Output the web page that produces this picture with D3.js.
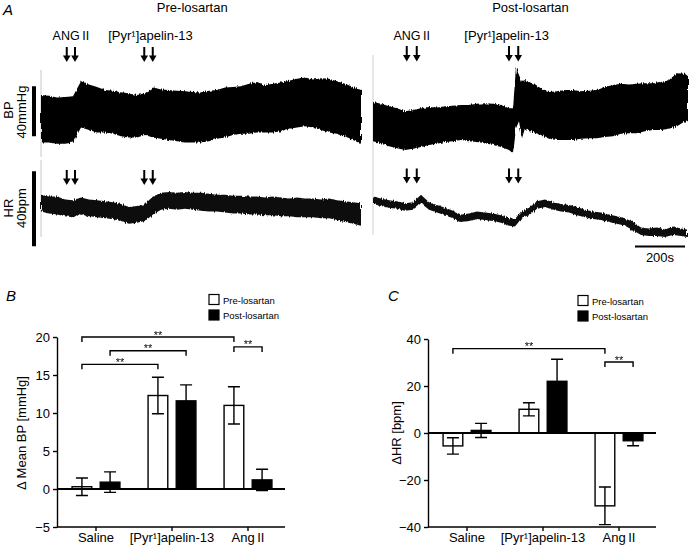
<!DOCTYPE html>
<html>
<head>
<meta charset="utf-8">
<script src="https://cdn.jsdelivr.net/npm/d3@7"></script>
<style>
  body { margin: 0; background: #fff; }
  svg { display: block; font-family: "Liberation Sans", Arial, Helvetica, sans-serif; }
  .stars { opacity: 0.99; will-change: transform; }
</style>
</head>
<body>
<svg id="fig" width="690" height="553"></svg>
<script>
// ---------- panel A: raw recordings (time in s from start of each trace) ----------
const preT = [0, 32, 64, 96, 128, 160, 192, 224, 256, 288, 320, 352, 384, 416, 448, 480, 512, 544, 576, 608,
  640, 672, 704, 736, 768, 800, 832, 864, 896, 928, 960, 992, 1024, 1056, 1088, 1120, 1152, 1184, 1216, 1248, 1280];
// BP envelope, mmHg
const preBPhi = [116, 115.5, 114, 114.5, 115, 127, 124.5, 122.5, 120, 119.5, 118, 117.5, 116, 117.5, 122, 120.5, 120, 119.5, 119, 118.5,
  118, 119.5, 120, 122, 122.5, 123, 125, 126.5, 124, 125, 126, 127.5, 129, 130, 128.5, 129.5, 129, 127, 125, 122.5, 120];
const preBPlo = [78, 78, 77, 77, 78, 90, 88, 86, 86, 85, 83, 82, 82, 84, 82, 81, 80, 79, 78, 78,
  78, 79, 81, 82, 84, 85, 85, 86, 86, 86, 87, 89, 90, 91, 90, 88, 86, 85, 83, 80, 77];
// HR envelope, bpm
const preHRhi = [337.5, 336.5, 336.5, 335, 334.5, 336, 335, 334.5, 334, 333.5, 332.5, 331, 331.5, 332.5, 336.5, 338.5, 339, 338.5, 339, 338.5,
  338.5, 338, 337.5, 337.5, 337, 337, 336.5, 336.5, 336, 336.5, 336, 335.5, 336, 335.5, 335.5, 335, 335.5, 334.5, 334, 333.5, 333];
const preHRlo = [328.5, 327.5, 327, 326, 325.5, 327, 326, 325.5, 325, 324.5, 323.5, 322, 322.5, 323.5, 327, 329.5, 330, 329.5, 330, 329.5,
  329, 328.5, 328.5, 328, 327.5, 327.5, 327, 327, 326.5, 326.5, 326, 326, 325.5, 325.5, 325.5, 325, 325, 324, 323, 322, 321];

const postBPT = [0, 32, 64, 96, 128, 160, 192, 224, 256, 288, 320, 352, 384, 416, 448, 480, 512, 544,
  560, 572, 584, 596, 608,
  640, 672, 704, 736, 768, 800, 832, 864, 896, 928, 960, 992, 1024, 1056, 1088, 1120, 1152, 1184, 1216, 1248, 1260];
const postBPhi = [110.5, 109, 107, 105.5, 103, 104, 105.5, 106.5, 106, 107, 107.5, 108, 108, 109, 109.5, 109, 108, 105.5,
  105.5, 138.5, 132, 126.5, 128,
  125, 121.5, 118.5, 119, 120, 120, 119, 119.5, 120, 122.5, 124, 125, 124.5, 125, 125.5, 125.5, 126.5, 128, 133.5, 133, 131];
const postBPlo = [79, 77.5, 75, 73.5, 72, 73, 74.5, 76, 77, 78.5, 79, 80, 79, 78.5, 77.5, 76, 74.5, 72,
  69.5, 89.5, 95, 81.5, 89.5,
  86.5, 84, 81, 80, 80, 80, 81, 81.5, 81.5, 82.5, 83, 85, 85.5, 85.5, 87, 88, 88, 89, 91, 95, 96];

const postHRT = [0, 32, 64, 96, 128, 160, 192, 224, 256, 288, 320, 352, 384, 416, 448, 480, 512, 544, 568, 592,
  624, 656, 688, 720, 752, 784, 816, 848, 880, 912, 944, 976, 1008, 1040, 1072, 1104, 1136, 1168, 1200, 1232, 1256];
const postHRhi = [336.5, 335.5, 334.5, 334, 333, 333.5, 337.5, 333.5, 332, 330.5, 329, 327, 327.5, 328.5, 328, 327.5, 326.5, 325, 324.5, 328.5,
  330.5, 334, 335, 333.5, 332.5, 332, 331, 329.5, 328.5, 328, 327, 326, 325, 323, 320, 319.5, 320, 319, 320.5, 319.5, 319];
const postHRlo = [332.5, 331.5, 330.5, 330, 329, 329.5, 333, 329.5, 328, 326.5, 325, 323, 323.5, 324.5, 324, 323.5, 322.5, 321, 320.5, 324.5,
  326.5, 330, 331, 329.5, 328.5, 328, 326.5, 325.5, 324.5, 324, 323, 322, 321, 318.5, 316, 315.5, 315.5, 315, 316, 315.5, 315];

// injection times (s)
const preAngT = [103, 136], preApelinT = [413, 447];
const postAngT = [135, 175], postApelinT = [544, 581];

// ---------- panels B and C: summary bars ----------
const groups = ["Saline", "[Pyr\u00b9]apelin-13", "Ang\u2009II"];
const bpPre = [0.3, 12.3, 11.0], bpPreErr = [1.15, 2.4, 2.45];
const bpPost = [0.9, 11.6, 1.2], bpPostErr = [1.35, 2.1, 1.4];
const hrPre = [-5.5, 10.1, -31], hrPreErr = [3.5, 2.8, 8];
const hrPost = [1.1, 22, -3.3], hrPostErr = [3.0, 9.4, 2.1];
const bpTicks = [-5, 0, 5, 10, 15, 20];
const hrTicks = [-40, -20, 0, 20, 40];
// significance brackets: [group, series] -> [group, series], at level (data units)
const bpSig = [
  { a: [0, "pre"], b: [2, "pre"], level: 20 },
  { a: [0, "post"], b: [1, "post"], level: 18.2 },
  { a: [0, "pre"], b: [1, "pre"], level: 16.4 },
  { a: [2, "pre"], b: [2, "post"], level: 18.7 }
];
const hrSig = [
  { a: [0, "pre"], b: [2, "pre"], level: 35.9 },
  { a: [2, "pre"], b: [2, "post"], level: 30.2 }
];

var svg = d3.select("#fig");
// rough, slightly soft edge for the digitised traces
var flt = svg.append("defs").append("filter").attr("id", "soft")
  .attr("x", "-5%").attr("y", "-20%").attr("width", "110%").attr("height", "140%");
flt.append("feTurbulence").attr("type", "fractalNoise").attr("baseFrequency", "0.9 0.08")
  .attr("numOctaves", 2).attr("seed", 3).attr("result", "n");
flt.append("feDisplacementMap").attr("in", "SourceGraphic").attr("in2", "n")
  .attr("scale", 3.5).attr("xChannelSelector", "A").attr("yChannelSelector", "R").attr("result", "d");
flt.append("feGaussianBlur").attr("in", "d").attr("stdDeviation", 0.45);

//---- panel A ----
var xPre = d3.scaleLinear().domain([0, 1280]).range([41, 361]);
var xPost = d3.scaleLinear().domain([0, 1260]).range([373, 688]);
var yBP = d3.scaleLinear().domain([60, 140]).range([165, 65]);
var yHR = d3.scaleLinear().domain([300, 420]).range([265, 40]);

function trace(x, y, t, hi, lo, fill) {
  var area = d3.area()
    .x(function (d, i) { return x(t[i]); })
    .y0(function (d, i) { return y(lo[i]); })
    .y1(function (d) { return y(d); });
  svg.append("path").datum(hi)
    .attr("d", area)
    .attr("fill", fill)
    .attr("filter", "url(#soft)");
}

// faint start-of-record lines
svg.append("line").attr("x1", xPre(0)).attr("x2", xPre(0)).attr("y1", 70).attr("y2", 157)
  .attr("stroke", "#c8c8c8").attr("stroke-width", 1);
svg.append("line").attr("x1", xPre(0)).attr("x2", xPre(0)).attr("y1", 160).attr("y2", 237)
  .attr("stroke", "#c8c8c8").attr("stroke-width", 1);
svg.append("line").attr("x1", xPost(0)).attr("x2", xPost(0)).attr("y1", 55).attr("y2", 235)
  .attr("stroke", "#d0d0d0").attr("stroke-width", 1);

trace(xPre, yBP, preT, preBPhi, preBPlo, "#000");
trace(xPre, yHR, preT, preHRhi, preHRlo, "#111");
trace(xPost, yBP, postBPT, postBPhi, postBPlo, "#000");
trace(xPost, yHR, postHRT, postHRhi, postHRlo, "#111");

function arrows(x, times, yTop, yBot) {
  times.forEach(function (t) {
    var cx = x(t);
    svg.append("line").attr("x1", cx).attr("x2", cx).attr("y1", yTop).attr("y2", yBot - 5)
      .attr("stroke", "#000").attr("stroke-width", 2);
    svg.append("path")
      .attr("d", "M" + (cx - 3.8) + "," + (yBot - 6.5) + "L" + (cx + 3.8) + "," + (yBot - 6.5) + "L" + cx + "," + yBot + "Z")
      .attr("fill", "#000");
  });
}
arrows(xPre, preAngT, 47, 62);
arrows(xPre, preApelinT, 47, 62);
arrows(xPost, postAngT, 46, 61.5);
arrows(xPost, postApelinT, 46, 61.5);
arrows(xPre, preAngT, 170, 185);
arrows(xPre, preApelinT, 170, 185);
arrows(xPost, postAngT, 168.5, 183.5);
arrows(xPost, postApelinT, 168.5, 183.5);

function label(x, y, txt, size, anchor) {
  return svg.append("text").attr("x", x).attr("y", y)
    .attr("font-size", size).attr("text-anchor", anchor || "middle").text(txt);
}
label(xPre(d3.mean(preAngT)), 40, "ANG\u2009II", 12.5);
label(xPre(d3.mean(preApelinT)) + 2, 40, "[Pyr\u00b9]apelin-13", 13);
label(xPost(d3.mean(postAngT)), 40, "ANG\u2009II", 12.5);
label(xPost(d3.mean(postApelinT)) - 7, 40, "[Pyr\u00b9]apelin-13", 13);
label(xPre(605), 12, "Pre-losartan", 13);
label(xPost(630), 12, "Post-losartan", 13);
label(3, 15, "A", 15, "start").attr("font-style", "italic");

// calibration bars
svg.append("rect").attr("x", 32).attr("width", 4)
  .attr("y", yBP(123)).attr("height", yBP(83) - yBP(123)).attr("fill", "#000");
svg.append("rect").attr("x", 32).attr("width", 4)
  .attr("y", yHR(350)).attr("height", yHR(310) - yHR(350)).attr("fill", "#000");
svg.append("line").attr("x1", xPost(1048)).attr("x2", xPost(1248)).attr("y1", 246.5).attr("y2", 246.5)
  .attr("stroke", "#000").attr("stroke-width", 2);
label((xPost(1048) + xPost(1248)) / 2, 262, "200s", 13);

function vlabel(x, y, txt, size) {
  return svg.append("text").attr("transform", "translate(" + x + "," + y + ") rotate(-90)")
    .attr("font-size", size).attr("text-anchor", "middle").text(txt);
}
vlabel(13, 110, "BP", 13);
vlabel(26, 112, "40mmHg", 13);
vlabel(13, 208, "HR", 13);
vlabel(26, 208, "40bpm", 13);

//---- panels B and C ----
function barPanel(o) {
  var g = svg.append("g");
  var x = d3.scaleBand().domain(groups).range([o.left + 1, o.left + 229]);
  var sub = d3.scaleBand().domain(["pre", "post"]).range([0, x.bandwidth()])
    .paddingInner(0.3).paddingOuter(0.5);
  var y = d3.scaleLinear().domain(o.domain).range([527, o.top]);

  var yAxis = g.append("g").attr("transform", "translate(" + o.left + ",0)")
    .call(d3.axisLeft(y).tickValues(o.ticks).tickSize(4).tickSizeOuter(0).tickPadding(3));
  var xAxis = g.append("g").attr("transform", "translate(0," + y(o.domain[0]) + ")")
    .call(d3.axisBottom(x).tickSize(4).tickSizeOuter(0).tickPadding(2));
  xAxis.select(".domain").attr("d", "M" + o.left + ",0H" + (o.left + 228));
  [yAxis, xAxis].forEach(function (a) {
    a.attr("font-family", null).attr("font-size", 13);
    a.selectAll("path,line").attr("stroke", "#000").attr("stroke-width", 1.4);
    a.selectAll("text").attr("fill", "#000");
  });

  var series = [
    { key: "pre", v: o.pre, e: o.preErr, fill: "#fff" },
    { key: "post", v: o.post, e: o.postErr, fill: "#000" }
  ];
  series.forEach(function (s) {
    g.selectAll(null).data(s.v).enter().append("rect")
      .attr("x", function (d, i) { return x(groups[i]) + sub(s.key); })
      .attr("width", sub.bandwidth())
      .attr("y", function (d) { return y(Math.max(0, d)); })
      .attr("height", function (d) { return Math.abs(y(d) - y(0)); })
      .attr("fill", s.fill).attr("stroke", "#000").attr("stroke-width", 1.4);
  });
  // zero line
  g.append("line").attr("x1", o.left).attr("x2", o.left + 228)
    .attr("y1", y(0)).attr("y2", y(0)).attr("stroke", "#000").attr("stroke-width", 2);
  // error bars
  series.forEach(function (s) {
    s.v.forEach(function (d, i) {
      var cx = x(groups[i]) + sub(s.key) + sub.bandwidth() / 2;
      var y1 = y(d + s.e[i]), y2 = y(d - s.e[i]);
      g.append("path")
        .attr("d", "M" + cx + "," + y1 + "V" + y2 + "M" + (cx - 6) + "," + y1 + "H" + (cx + 6) + "M" + (cx - 6) + "," + y2 + "H" + (cx + 6))
        .attr("stroke", "#000").attr("stroke-width", 1.4).attr("fill", "none");
    });
  });
  // significance
  function barX(p) { return x(groups[p[0]]) + sub(p[1]) + sub.bandwidth() / 2; }
  o.sig.forEach(function (s) {
    var x1 = barX(s.a), x2 = barX(s.b), yy = y(s.level);
    g.append("path").attr("d", "M" + x1 + "," + (yy + 5) + "V" + yy + "H" + x2 + "V" + (yy + 5))
      .attr("stroke", "#000").attr("stroke-width", 1.4).attr("fill", "none");
    g.append("text").attr("class", "stars").attr("x", (x1 + x2) / 2).attr("y", yy + 1.5)
      .attr("text-anchor", "middle").attr("font-size", 11).attr("fill", "#000").text("**");
  });
  // legend
  [["Pre-losartan", "#fff"], ["Post-losartan", "#000"]].forEach(function (l, i) {
    g.append("rect").attr("x", o.legX).attr("y", o.legY + i * 15.5).attr("width", 10).attr("height", 10)
      .attr("fill", l[1]).attr("stroke", "#000").attr("stroke-width", 1.2);
    g.append("text").attr("x", o.legX + 14).attr("y", o.legY + 9 + i * 15.5)
      .attr("font-size", 9.5).text(l[0]);
  });
  // y label + panel letter
  g.append("text").attr("transform", "translate(" + o.labX + ",433) rotate(-90)")
    .attr("text-anchor", "middle").attr("font-size", 13).text(o.ylab);
  g.append("text").attr("x", o.letX).attr("y", 301).attr("font-size", 15)
    .attr("font-style", "italic").text(o.letter);
}

barPanel({
  left: 57, top: 337, domain: [-5, 20], ticks: bpTicks,
  pre: bpPre, preErr: bpPreErr, post: bpPost, postErr: bpPostErr,
  sig: bpSig, legX: 209, legY: 294.5, labX: 26, ylab: "\u0394 Mean BP [mmHg]", letX: 6, letter: "B"
});
barPanel({
  left: 428, top: 339, domain: [-40, 40], ticks: hrTicks,
  pre: hrPre, preErr: hrPreErr, post: hrPost, postErr: hrPostErr,
  sig: hrSig, legX: 578, legY: 295.5, labX: 401, ylab: "\u0394HR [bpm]", letX: 388, letter: "C"
});
</script>
</body>
</html>
